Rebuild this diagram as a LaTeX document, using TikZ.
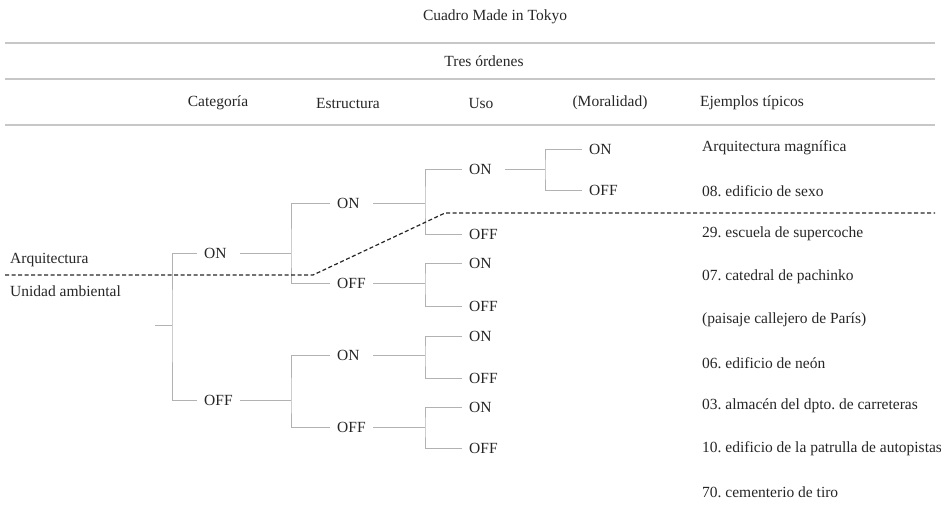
\documentclass[tikz,border=0pt]{standalone}
\usepackage{fontspec}
\setmainfont{Liberation Serif}
\usetikzlibrary{positioning}
\usetikzlibrary{calc}
\frenchspacing

\begin{document}
\begin{tikzpicture}[x=1pt, y=-1pt, font=\fontsize{15.5}{18}\selectfont, text=black!85,
	rama/.style={draw=black!30, line width=1pt},
	regla/.style={draw=black!22, line width=1.8pt},
	op/.style={anchor=west, inner xsep=7pt, inner ysep=0pt, text width=29pt, align=left},
	ej/.style={anchor=west, inner sep=0pt},
	corte/.style={draw=black!85, line width=1.2pt, dash pattern=on 4pt off 2.5pt}]
	 \useasboundingbox (0,0) rectangle (941,520);

	 % Title, rules and column heads
	 \node (titulo) at (495,17) {Cuadro Made in Tokyo};
	 \node (ordenes) at (484,61) {Tres órdenes};
	 \foreach \y [count=\i] in {43,79,125} {
	 	\coordinate (ra\i) at (5,\y);
	 	\coordinate (rb\i) at (935,\y);
	 	\draw[regla] (ra\i) -- (rb\i);
	 }
	 \node (hcat) at (218,103) {Categoría};
	 \node (hest) at (348,103) {Estructura};
	 \node (huso) at (481,103) {Uso};
	 \node (hmor) at (610,103) {(Moralidad)};
	 \node[ej] (hej) at (700,103) {Ejemplos típicos};

	 % Branch points
	 \coordinate (raiz) at (155,325);
	 \coordinate (v0) at (172,325);
	 \coordinate (v1) at (291,253);
	 \coordinate (v0a) at (291,400);
	 \coordinate (v11) at (425,203);
	 \coordinate (v10) at (425,283);
	 \coordinate (v01) at (425,355);
	 \coordinate (v00) at (425,427);
	 \coordinate (v111) at (545,169);

	 % Categoria
	 \node[op] (c1) at (197,253) {ON};
	 \node[op] (c0) at (197,400) {OFF};
	 % Estructura
	 \node[op] (e11) at (330,203) {ON};
	 \node[op] (e10) at (330,283) {OFF};
	 \node[op] (e01) at (330,355) {ON};
	 \node[op] (e00) at (330,427) {OFF};
	 % Uso
	 \node[op] (u111) at (462,169) {ON};
	 \node[op] (u110) at (462,234) {OFF};
	 \node[op] (u101) at (462,263) {ON};
	 \node[op] (u100) at (462,306) {OFF};
	 \node[op] (u011) at (462,336) {ON};
	 \node[op] (u010) at (462,378) {OFF};
	 \node[op] (u001) at (462,407) {ON};
	 \node[op] (u000) at (462,448) {OFF};
	 % Moralidad
	 \node[op] (m1) at (582,149) {ON};
	 \node[op] (m0) at (582,190) {OFF};

	 % Tree lines
	 \draw[rama] (raiz) -- (v0);
	 \draw[rama] (c1.west) -| (v0) |- (c0.west);
	 \draw[rama] (c1.east) -- (v1);
	 \draw[rama] (c0.east) -- (v0a);
	 \draw[rama] (e11.west) -| (v1) |- (e10.west);
	 \draw[rama] (e01.west) -| (v0a) |- (e00.west);
	 \draw[rama] (e11.east) -- (v11);
	 \draw[rama] (e10.east) -- (v10);
	 \draw[rama] (e01.east) -- (v01);
	 \draw[rama] (e00.east) -- (v00);
	 \draw[rama] (u111.west) -| (v11) |- (u110.west);
	 \draw[rama] (u101.west) -| (v10) |- (u100.west);
	 \draw[rama] (u011.west) -| (v01) |- (u010.west);
	 \draw[rama] (u001.west) -| (v00) |- (u000.west);
	 \draw[rama] (u111.east) -- (v111);
	 \draw[rama] (m1.west) -| (v111) |- (m0.west);

	 % Typical examples
	 \foreach \t [count=\i] in {Arquitectura magnífica, 08. edificio de sexo,
	 	29. escuela de supercoche, 07. catedral de pachinko,
	 	(paisaje callejero de París), 06. edificio de neón,
	 	03. almacén del dpto. de carreteras, 10. edificio de la patrulla de autopistas,
	 	70. cementerio de tiro} {
	 	\node[ej] (ej\i) at (702,{148+43*(\i-1)}) {\t};
	 }

	 % Dividing line
	 \node[ej] (arq) at (10,260) {Arquitectura};
	 \node[ej] (uni) at (10,291) {Unidad ambiental};
	 \coordinate (d1) at (5,275);
	 \coordinate (d2) at (313,275);
	 \coordinate (d3) at (445,213);
	 \coordinate (d4) at (935,213);
	 \draw[corte] (d1) -- (d2) -- (d3) -- (d4);
\end{tikzpicture}
\end{document}
